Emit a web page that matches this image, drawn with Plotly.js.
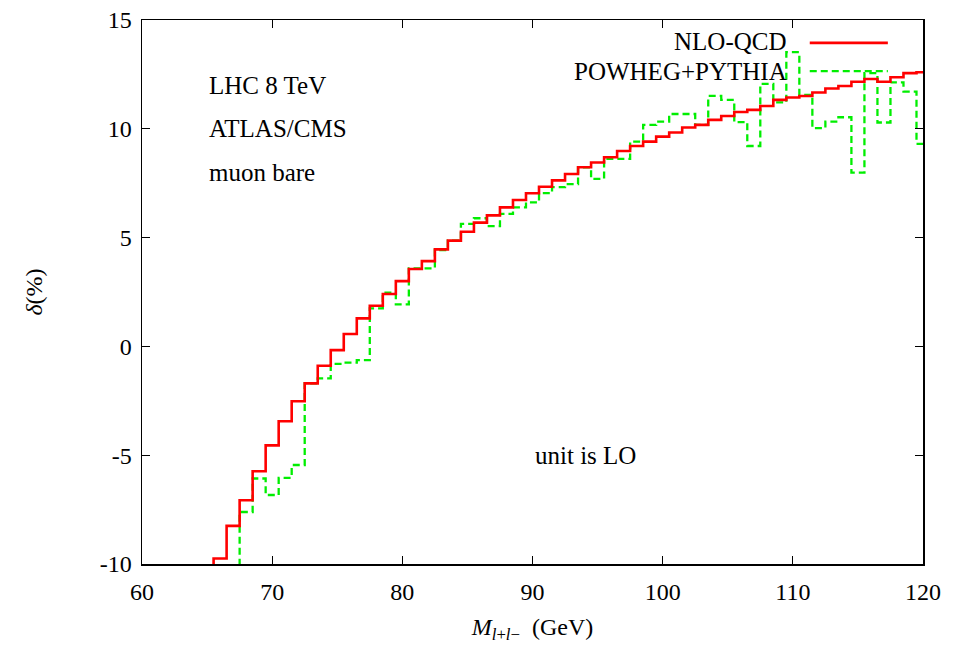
<!DOCTYPE html>
<html>
<head>
<meta charset="utf-8">
<script src="https://cdn.plot.ly/plotly-3.0.1.min.js"></script>
<style>html,body{margin:0;padding:0;background:#fff;}#chart{width:961px;height:654px;}</style>
</head>
<body>
<div id="chart"></div>
<script>
// Bin centres (GeV), bins of width 1 GeV
const nloCenters = [65,66,67,68,69,70,71,72,73,74,75,76,77,78,79,80,81,82,83,84,85,86,87,88,89,90,91,92,93,94,95,96,97,98,99,100,101,102,103,104,105,106,107,108,109,110,111,112,113,114,115,116,117,118,119,120];
const nloValues = [-11,-9.75,-8.25,-7.07,-5.74,-4.55,-3.44,-2.52,-1.70,-0.89,-0.17,0.57,1.29,1.87,2.41,3.00,3.56,3.92,4.46,4.86,5.27,5.69,6.02,6.39,6.73,7.04,7.34,7.63,7.92,8.23,8.45,8.69,8.98,9.21,9.41,9.64,9.83,10.06,10.18,10.41,10.59,10.77,10.87,11.05,11.33,11.44,11.51,11.67,11.85,11.97,12.16,12.29,12.16,12.37,12.56,12.60];

const powCenters = [67,68,69,70,71,72,73,74,75,76,77,78,79,80,81,82,83,84,85,86,87,88,89,90,91,92,93,94,95,96,97,98,99,100,101,102,103,104,105,106,107,108,109,110,111,112,113,114,115,116,117,118,119,120];
const powValues = [-11,-7.61,-6.07,-6.83,-6.04,-5.45,-1.70,-1.47,-0.80,-0.75,-0.63,1.75,2.47,1.93,3.59,3.59,4.43,4.86,5.63,5.89,5.53,6.09,6.39,6.62,7.04,7.32,7.46,8.23,7.70,8.62,8.62,9.41,10.18,10.33,10.68,10.68,10.18,11.51,11.33,10.31,9.21,12.06,11.21,13.52,11.56,10.03,10.33,10.53,7.99,12.56,10.29,12.13,11.71,9.31];

const binWidth = 1;
const xTickVals = [60,70,80,90,100,110,120];
const xTickText = ['60','70','80','90','100','110','120'];
const yTickVals = [-10,-5,0,5,10,15];
const yTickText = ['-10','-5','0','5','10','15'];

const seriesNames = ['NLO-QCD','POWHEG+PYTHIA'];
const labelTexts = ['LHC 8 TeV','ATLAS/CMS','muon bare'];
const labelX = [65,65,65];
const labelY = [12,10,8];
const unitText = 'unit is LO';
const unitX = 90, unitY = -5;

// convert centres to step edges (hv shape)
function steps(centers, values){
  const xs = [], ys = [];
  for (let i=0;i<centers.length;i++){ xs.push(centers[i]-binWidth/2); ys.push(values[i]); }
  xs.push(centers[centers.length-1]+binWidth/2); ys.push(values[values.length-1]);
  return {xs, ys};
}
const a = steps(nloCenters, nloValues);
const b = steps(powCenters, powValues);

const FONT = '"Liberation Serif", "DejaVu Serif", serif';
const RED = '#ff0000', GREEN = '#00ee00';

const traces = [
  {x:b.xs, y:b.ys, type:'scatter', mode:'lines', line:{shape:'hv', color:GREEN, width:2.3, dash:'7px,4px'}, name:seriesNames[1], showlegend:false},
  {x:a.xs, y:a.ys, type:'scatter', mode:'lines', line:{shape:'hv', color:RED, width:2.6}, name:seriesNames[0], showlegend:false}
];

const annotations = [];
for (let i=0;i<labelTexts.length;i++){
  annotations.push({x:labelX[i], y:labelY[i], xref:'x', yref:'y', text:labelTexts[i], showarrow:false, xanchor:'left', yanchor:'middle', font:{family:FONT, size:25, color:'#000'}});
}
annotations.push({x:unitX, y:unitY, xref:'x', yref:'y', text:unitText, showarrow:false, xanchor:'left', yanchor:'middle', font:{family:FONT, size:25, color:'#000'}});
// legend (key) text, right aligned next to line samples
const keyY = [0.961, 0.906];
annotations.push({x:0.829, y:keyY[0], xref:'paper', yref:'paper', text:seriesNames[0], showarrow:false, xanchor:'right', yanchor:'middle', font:{family:FONT, size:25, color:'#000'}});
annotations.push({x:0.829, y:keyY[1], xref:'paper', yref:'paper', text:seriesNames[1], showarrow:false, xanchor:'right', yanchor:'middle', font:{family:FONT, size:25, color:'#000'}});

const shapes = [
  {type:'line', xref:'paper', yref:'paper', x0:0.855, x1:0.955, y0:keyY[0]-0.003, y1:keyY[0]-0.003, line:{color:RED, width:2.6}},
  {type:'line', xref:'paper', yref:'paper', x0:0.855, x1:0.955, y0:keyY[1], y1:keyY[1], line:{color:GREEN, width:2.3, dash:'7px,4px'}}
];

const axisCommon = {
  showline:true, linecolor:'#000', linewidth:1.5, mirror:'ticks',
  ticks:'inside', ticklen:8, tickwidth:1, tickcolor:'#000',
  showgrid:false, zeroline:false,
  tickfont:{family:FONT, size:24, color:'#000'}
};

const layout = {
  width:961, height:654,
  margin:{l:142, r:38, t:20, b:90},
  paper_bgcolor:'#fff', plot_bgcolor:'#fff',
  showlegend:false,
  font:{family:FONT},
  xaxis: Object.assign({}, axisCommon, {
    range:[60,120], tickmode:'array', tickvals:xTickVals, ticktext:xTickText,
    ticklabelstandoff:6,
    title:{text:'<i>M</i><sub><i>l</i>+<i>l</i>−</sub>  (GeV)', font:{family:FONT, size:24, color:'#000'}, standoff:14}
  }),
  yaxis: Object.assign({}, axisCommon, {
    range:[-10,15], tickmode:'array', tickvals:yTickVals, ticktext:yTickText,
    ticklabelstandoff:4,
    title:{text:'<i>δ</i>(%)', font:{family:FONT, size:24, color:'#000'}, standoff:50}
  }),
  annotations:annotations,
  shapes:shapes
};

Plotly.newPlot('chart', traces, layout, {staticPlot:true, displayModeBar:false});
</script>
</body>
</html>
